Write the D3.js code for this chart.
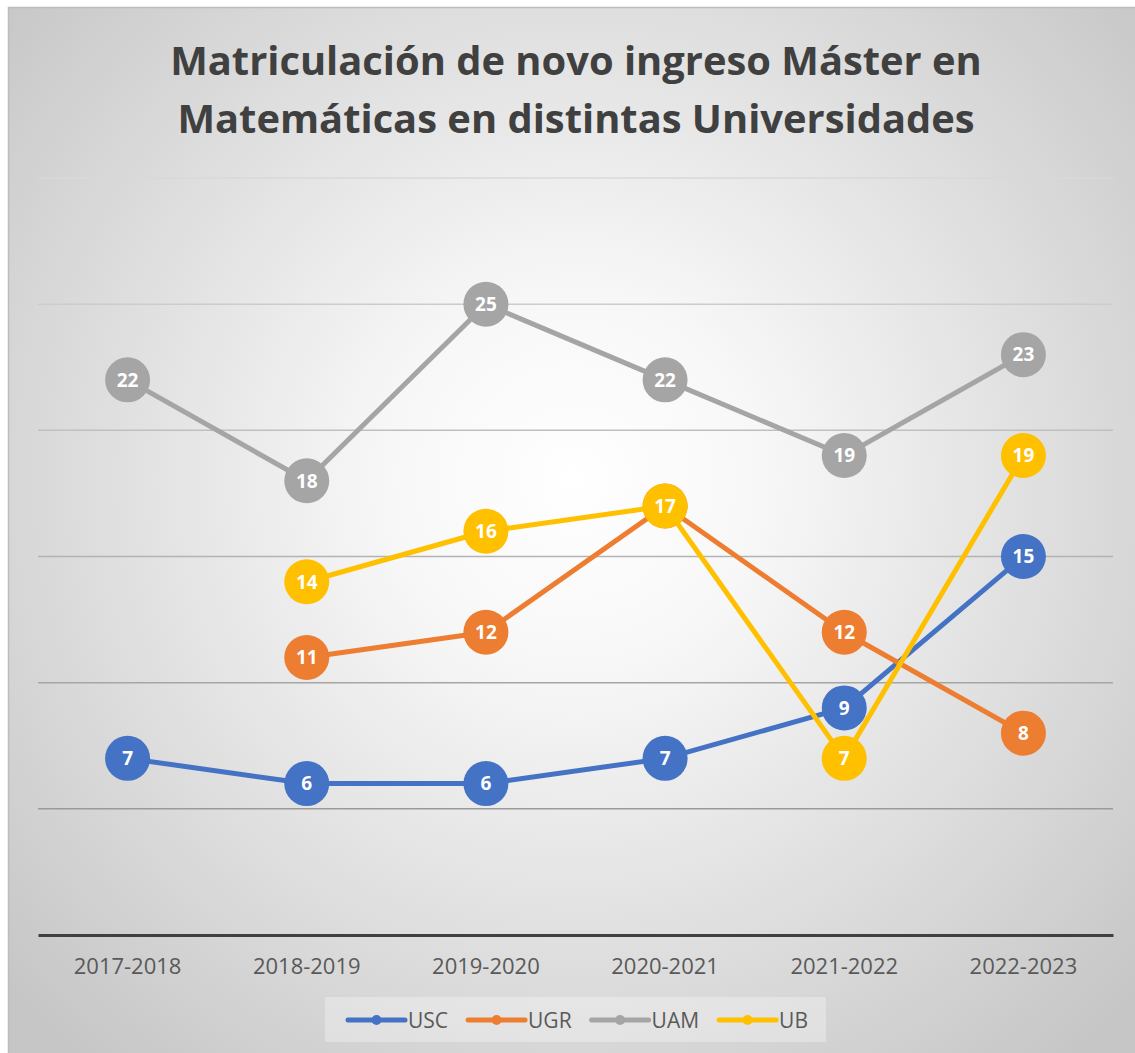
<!DOCTYPE html>
<html>
<head>
<meta charset="utf-8">
<script src="https://cdn.jsdelivr.net/npm/d3@7"></script>
<style>
  body { margin: 0; background: #ffffff; }
  svg { display: block; }
  text { font-family: 'Open Sans', sans-serif; }
</style>
</head>
<body>
<svg id="chart"></svg>
<script>
// data
const years = ['2017-2018', '2018-2019', '2019-2020', '2020-2021', '2021-2022', '2022-2023'];
const seriesNames = ['USC', 'UGR', 'UAM', 'UB'];
const usc = [7, 6, 6, 7, 9, 15];
const ugr = [null, 11, 12, 17, 12, 8];
const uam = [22, 18, 25, 22, 19, 23];
const ub = [null, 14, 16, 17, 7, 19];
const gridTicks = [5, 10, 15, 20, 25, 30];
const titleLines = ['Matriculación de novo ingreso Máster en', 'Matemáticas en distintas Universidades'];

const colors = ['#4472C4', '#ED7D31', '#A5A5A5', '#FFC000'];
const seriesValues = [usc, ugr, uam, ub];

const W = 1135, H = 1053;
const margin = { top: 178, right: 22, bottom: 118, left: 38 };
const innerW = W - margin.left - margin.right;
const innerH = H - margin.top - margin.bottom;

const svg = d3.select('#chart').attr('width', W).attr('height', H);

// background with radial gradient
const defs = svg.append('defs');
const grad = defs.append('radialGradient')
  .attr('id', 'bg')
  .attr('gradientUnits', 'userSpaceOnUse')
  .attr('cx', 575).attr('cy', 480).attr('r', 760);
grad.append('stop').attr('offset', '0').attr('stop-color', '#ffffff');
grad.append('stop').attr('offset', '0.25').attr('stop-color', '#f7f7f7');
grad.append('stop').attr('offset', '1').attr('stop-color', '#c6c6c6');

svg.append('rect')
  .attr('x', 8.5).attr('y', 7.5)
  .attr('width', W).attr('height', H)
  .attr('fill', 'url(#bg)')
  .attr('stroke', '#bdbdbd')
  .attr('stroke-width', 1.5);

// title, fitted to the reference width
const title = svg.append('text')
  .attr('text-anchor', 'middle')
  .attr('fill', '#404040')
  .style('font-weight', 700)
  .style('font-size', '40px');
title.selectAll('tspan')
  .data(titleLines)
  .join('tspan')
  .attr('x', 576)
  .attr('y', (d, i) => 75 + i * 58)
  .text(d => d);
const t1 = title.select('tspan').node().getComputedTextLength();
title.style('font-size', (40 * 812 / t1) + 'px');

const chart = svg.append('g')
  .attr('transform', `translate(${margin.left},${margin.top})`);

const xScale = d3.scaleBand().domain(years).range([0, innerW]);
const yScale = d3.scaleLinear().domain([0, 30]).range([innerH, 0]);
const gridColor = d3.scaleLinear().domain([5, 30]).range(['#9a9a9a', '#d8d8d8']);

// gridlines
chart.append('g')
  .selectAll('line')
  .data(gridTicks)
  .join('line')
  .attr('x1', 0).attr('x2', innerW)
  .attr('y1', d => yScale(d)).attr('y2', d => yScale(d))
  .attr('stroke', d => gridColor(d))
  .attr('stroke-width', 1.5);

// x axis
const xAxis = d3.axisBottom(xScale).tickSize(0).tickPadding(23);
const xAxisG = chart.append('g')
  .attr('transform', `translate(0,${innerH})`)
  .call(xAxis);
xAxisG.select('.domain').attr('stroke', '#404040').attr('stroke-width', 3);
xAxisG.selectAll('.tick text')
  .attr('fill', '#595959')
  .style('font-size', '22px')
  .style('font-family', "'Open Sans', sans-serif");

const cx = d => xScale(d) + xScale.bandwidth() / 2;

const line = d3.line()
  .defined(d => d.v !== null)
  .x(d => cx(d.year))
  .y(d => yScale(d.v));

const series = seriesNames.map((name, i) => ({
  name,
  color: colors[i],
  points: years.map((y, j) => ({ year: y, v: seriesValues[i][j] }))
}));

// draw series in order so later ones sit on top
series.forEach(s => {
  const g = chart.append('g');
  g.append('path')
    .attr('d', line(s.points))
    .attr('fill', 'none')
    .attr('stroke', s.color)
    .attr('stroke-width', 5)
    .attr('stroke-linejoin', 'round');
  const pts = s.points.filter(d => d.v !== null);
  g.selectAll('circle')
    .data(pts)
    .join('circle')
    .attr('cx', d => cx(d.year))
    .attr('cy', d => yScale(d.v))
    .attr('r', 22.5)
    .attr('fill', s.color);
  g.selectAll('text')
    .data(pts)
    .join('text')
    .attr('x', d => cx(d.year))
    .attr('y', d => yScale(d.v))
    .attr('dy', '0.36em')
    .attr('text-anchor', 'middle')
    .attr('fill', '#ffffff')
    .style('font-weight', 700)
    .style('font-size', '19px')
    .text(d => d.v);
});

// legend
const legend = svg.append('g');
legend.append('rect')
  .attr('x', 325).attr('y', 997)
  .attr('width', 501).attr('height', 45)
  .attr('fill', '#ffffff')
  .attr('fill-opacity', 0.3);

let lx = 348;
seriesNames.forEach((name, i) => {
  const item = legend.append('g').attr('transform', `translate(${lx},1020)`);
  item.append('line')
    .attr('x1', 0).attr('x2', 57)
    .attr('stroke', colors[i])
    .attr('stroke-width', 5)
    .attr('stroke-linecap', 'round');
  item.append('circle').attr('cx', 28.5).attr('r', 5).attr('fill', colors[i]);
  const txt = item.append('text')
    .attr('x', 60)
    .attr('dy', '0.36em')
    .attr('fill', '#595959')
    .style('font-size', '21px')
    .text(name);
  lx += 60 + txt.node().getComputedTextLength() + 20;
});
</script>
</body>
</html>
